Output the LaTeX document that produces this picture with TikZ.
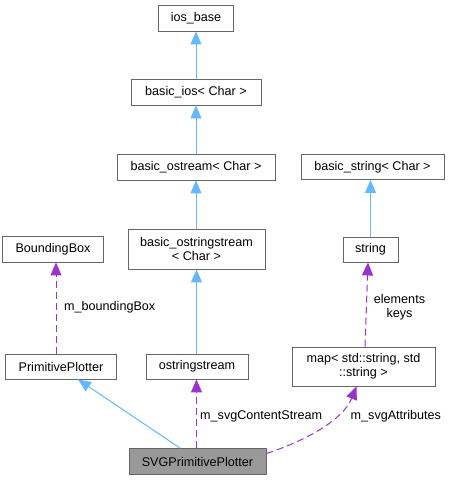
\documentclass[tikz,border=0pt]{standalone}
\usepackage{fontspec}
\setmainfont{Liberation Sans}
\usetikzlibrary{arrows.meta}
\definecolor{boxborder}{HTML}{666666}
\definecolor{svgfill}{HTML}{999999}
\definecolor{inhblue}{HTML}{63B8FF}
\definecolor{usepurple}{HTML}{9A32CD}
\tikzset{
  cls/.style={draw=boxborder, line width=0.9pt, fill=white, inner sep=0pt, align=center,
    font=\fontsize{12.6}{14}\selectfont},
  inh/.style={draw=inhblue, line width=1pt, -{Triangle[length=13pt,width=11pt,fill=inhblue]}},
  usage/.style={draw=usepurple, line width=1pt, dash pattern=on 7pt off 4pt,
    -{Triangle[length=13pt,width=11pt,fill=usepurple]}},
  lbl/.style={font=\fontsize{12.6}{14}\selectfont, inner sep=0pt, align=center}
}
\begin{document}
\begin{tikzpicture}[x=1pt,y=-1pt]
\useasboundingbox (0,0) rectangle (451,480);
\node[cls, minimum width=75pt, minimum height=26pt] (iosbase) at (196,18) {ios\_base};
\node[cls, minimum width=130pt, minimum height=26pt] (basicios) at (196,92) {basic\_ios< Char >};
\node[cls, minimum width=158pt, minimum height=26pt] (bostream) at (196,167) {basic\_ostream< Char >};
\node[cls, minimum width=137pt, minimum height=40pt] (bosstream) at (196.5,249) {basic\_ostringstream\\< Char >};
\node[cls, minimum width=101pt, minimum height=26pt] (bbox) at (53,249) {BoundingBox};
\node[cls, minimum width=111pt, minimum height=25pt] (pp) at (61,366.5) {PrimitivePlotter};
\node[cls, minimum width=102pt, minimum height=25pt] (oss) at (197,366.5) {ostringstream};
\node[cls, fill=svgfill, minimum width=137pt, minimum height=26pt] (svg) at (197.5,461.5) {SVGPrimitivePlotter};
\node[cls, minimum width=143pt, minimum height=39pt] (map) at (363.5,366.5) {map< std::string, std\\::string >};
\node[cls, minimum width=55pt, minimum height=25pt] (string) at (370.5,249.5) {string};
\node[cls, minimum width=143pt, minimum height=25pt] (bstring) at (372.5,167) {basic\_string< Char >};

\draw[inh] (basicios.north) -- (iosbase.south);
\draw[inh] (bostream.north) -- (basicios.south);
\draw[inh] (bosstream.north -| bostream.south) -- (bostream.south);
\draw[inh] ([xshift=-0.5pt]oss.north) -- ([xshift=-0.5pt]oss.north |- bosstream.south);
\draw[inh] (string.north) -- (string.north |- bstring.south);
\draw[inh] ([xshift=-17.5pt]svg.north) -- ([xshift=17pt]pp.south);

\draw[usage] ([xshift=-5pt]pp.north) -- ([xshift=3pt]bbox.south);
\draw[usage] ([xshift=-0.5pt]svg.north -| oss.south) -- ([xshift=-0.5pt]oss.south);
\draw[usage] ([yshift=8pt]svg.east) .. controls (305,441) and (343,420) .. ([xshift=-7pt]map.south);
\draw[usage] ([xshift=1.5pt]map.north) -- ([xshift=-2.5pt]string.south);

\node[lbl, anchor=west] (lbb) at (64,307) {m\_boundingBox};
\node[lbl, anchor=west] (lcs) at (200,416.5) {m\_svgContentStream};
\node[lbl, anchor=west] (lsa) at (350.5,416.5) {m\_svgAttributes};
\node[lbl] (lek) at (399.5,307) {elements\\keys};
\end{tikzpicture}
\end{document}
